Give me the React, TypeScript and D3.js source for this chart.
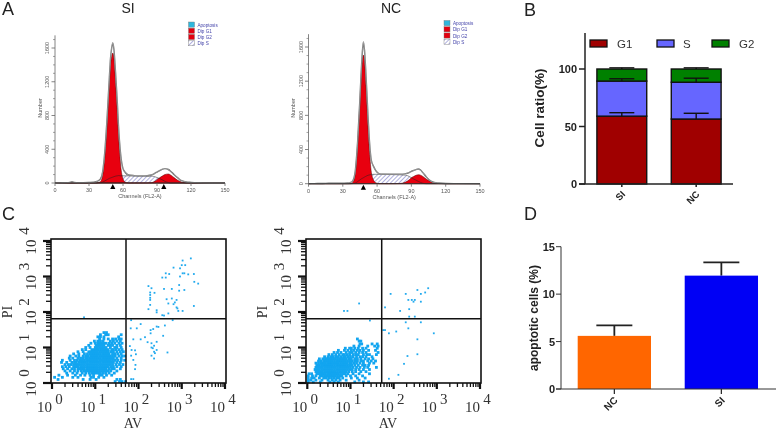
import React from "react";
import * as d3 from "d3";

// ---------- Panel A: cell-cycle histograms ----------
const siChannels = [0,5,10,13,15,17,20,25,30,34,37,40,42,44,46,48,49,50,51,52,53,54,55,56,58,60,62,65,70,75,80,85,88,90,92,95,97,100,102,105,108,110,113,116,120,125,130,140,150];
const siTotal =    [0,2,4,8,14,8,4,5,7,10,18,45,130,380,780,1260,1480,1600,1660,1580,1400,1180,950,680,330,170,125,95,88,85,85,95,115,130,145,165,170,160,140,100,65,40,22,12,8,4,2,0,0];
const siG1 =       [0,0,0,0,0,0,0,0,0,0,2,15,90,320,720,1190,1400,1500,1540,1480,1300,1080,840,580,200,50,10,0,0,0,0,0,0,0,0,0,0,0,0,0,0,0,0,0,0,0,0,0,0];
const siS =        [0,0,0,0,0,0,0,0,0,0,0,3,10,25,40,55,60,65,70,75,80,83,85,88,85,85,85,85,83,82,82,82,75,65,55,35,20,5,0,0,0,0,0,0,0,0,0,0,0];
const siG2 =       [0,0,0,0,0,0,0,0,0,0,0,0,0,0,0,0,0,0,0,0,0,0,0,0,0,0,0,0,0,0,0,3,20,40,60,85,100,107,95,65,35,20,6,1,0,0,0,0,0];
const ncChannels = [0,5,10,15,20,25,30,34,37,39,41,43,45,46,47,48,49,50,51,52,53,54,55,57,59,62,65,70,75,80,85,88,90,92,94,96,98,100,103,107,110,114,120,130,150];
const ncTotal =    [0,1,2,4,5,6,7,8,15,40,160,500,1000,1280,1520,1660,1560,1340,1080,800,560,380,270,200,150,115,110,110,112,112,118,130,145,155,165,172,160,130,80,30,15,8,3,1,0];
const ncG1 =       [0,0,0,0,0,0,0,0,2,20,130,470,960,1240,1440,1505,1440,1220,960,680,440,260,130,40,10,0,0,0,0,0,0,0,0,0,0,0,0,0,0,0,0,0,0,0,0,0];
const ncS =        [0,0,0,0,0,0,0,0,0,2,8,25,45,55,62,70,78,85,92,98,102,105,108,110,110,110,110,108,106,104,100,85,70,55,42,28,15,5,0,0,0,0,0,0,0];
const ncG2 =       [0,0,0,0,0,0,0,0,0,0,0,0,0,0,0,0,0,0,0,0,0,0,0,0,0,0,0,0,0,2,20,45,70,85,98,105,100,85,55,22,9,2,0,0,0];
const histXTicks = [0, 30, 60, 90, 120, 150];
const histYTicks = [0, 400, 800, 1200, 1600];
const histYMinor = [100,200,300,500,600,700,900,1000,1100,1300,1400,1500,1700];
const legendLabels = ["Apoptosis", "Dip G1", "Dip G2", "Dip S"];

// ---------- Panel B ----------
const stackGroups = ["SI", "NC"];
const g1Values = [59, 56.5];
const sValues = [30.5, 32];
const g2Values = [10.5, 11.5];
const g1ErrTop = [62, 61.5];
const sErrTop = [91.5, 92];
const g2ErrTop = [101, 101];
const stackTicks = [0, 50, 100];

// ---------- Panel D ----------
const apoGroups = ["NC", "SI"];
const apoValues = [5.6, 11.95];
const apoErrTop = [6.7, 13.35];
const apoTicks = [0, 5, 10, 15];

// ---------- Panel C: scatter, log10 decades, rows are [PI, AV values] ----------
type Row = [number, number[]];
const siCluster: Row[] = [
  [1.42,[1.2,1.26]],
  [1.36,[1.12,1.24,1.3,1.6]],
  [1.3,[1.06,1.12,1.2,1.54]],
  [1.24,[1.1,1.2,1.3,1.4,1.47,1.55,1.6]],
  [1.18,[.98,1.06,1.12,1.18,1.35,1.42,1.5,1.58]],
  [1.12,[.9,1,1.06,1.1,1.15,1.2,1.25,1.32,1.38,1.45,1.55,1.62]],
  [1.06,[.85,1.02,1.06,1.1,1.15,1.2,1.3,1.35,1.4,1.5,1.58]],
  [1,[.78,.88,1,1.05,1.1,1.15,1.2,1.25,1.35,1.45,1.5,1.6]],
  [.94,[.7,.78,.92,.98,1.02,1.06,1.12,1.16,1.2,1.25,1.3,1.38,1.42,1.48,1.55,1.62]],
  [.88,[.6,.72,.85,.9,.95,1,1.05,1.1,1.15,1.2,1.25,1.3,1.36,1.42,1.5,1.58,1.65]],
  [.82,[.5,.62,.75,.82,.88,.92,.97,1.02,1.07,1.12,1.17,1.22,1.27,1.32,1.4,1.45,1.52,1.6]],
  [.76,[.42,.55,.62,.72,.78,.84,.9,.95,1,1.05,1.1,1.15,1.2,1.25,1.3,1.35,1.4,1.46,1.55,1.62,1.68]],
  [.7,[.4,.48,.6,.66,.72,.78,.82,.87,.92,.97,1.02,1.07,1.12,1.17,1.22,1.27,1.32,1.37,1.42,1.5,1.6]],
  [.64,[.24,.42,.52,.58,.64,.7,.75,.8,.85,.9,.95,1,1.05,1.1,1.15,1.2,1.25,1.3,1.35,1.4,1.46,1.52,1.6,1.68]],
  [.58,[.22,.34,.46,.52,.56,.62,.68,.72,.77,.82,.87,.92,.97,1.02,1.07,1.12,1.17,1.22,1.27,1.32,1.37,1.42,1.5,1.58]],
  [.52,[.3,.38,.44,.5,.56,.6,.65,.7,.75,.8,.85,.9,.95,1,1.05,1.1,1.15,1.2,1.25,1.3,1.35,1.4,1.48,1.56,1.64]],
  [.46,[.24,.32,.4,.5,.55,.6,.66,.7,.75,.8,.85,.9,.95,1,1.05,1.1,1.15,1.2,1.25,1.3,1.36,1.42,1.5,1.6]],
  [.4,[.26,.36,.46,.52,.6,.65,.7,.74,.8,.85,.9,.95,1,1.05,1.1,1.15,1.2,1.25,1.32,1.38,1.44,1.58]],
  [.34,[.3,.42,.52,.6,.68,.74,.78,.82,.86,.9,.95,1,1.05,1.1,1.15,1.2,1.25,1.3,1.36,1.5]],
  [.28,[.34,.48,.58,.7,.78,.86,.92,.97,1.02,1.07,1.12,1.18,1.24,1.32,1.44]],
  [.22,[.16,.36,.54,.66,.76,.88,.96,1.1,1.16,1.26,1.38]],
  [.16,[.06,.24,.48,.6,.9,.96,1.08,1.2]],
  [.1,[.14,.72,.88,1.02,1.5,1.58]],
  [.04,[1.46,1.56,1.62,1.7]],
];
const siRightX = [3.21,3.02,3,3.08,2.81,2.96,2.63,2.71,2.55,2.63,3.02,2.96,3.06,3.15,3.28,3.29,3.38,2.94,2.23,2.3,2.37,2.27,2.27,2.27,2.27,2.59,2.77,2.94,3.06,2.65,2.77,2.84,2.88,2.69,2.81,2.27,2.23,2.42,2.42,2.9,2.92,3.02,3.28,2.69,2.55,2.59,2.88,0.74,
  1.83,2.05,1.82,1.96,2.42,2.34,2.28,2.46,2.61,2.79,2.57,2.28,2.15,2.05,1.88,2.42,2.21,2.3,2.36,2.3,2.42,2.36,2.33,2.67,2.38,2.3,2.36,1.8,1.84,1.92,1.94,1.83,1.88,1.93,1.92,1.83,1.88];
const siRightY = [3.51,3.45,3.32,3.32,3.25,3.23,3.09,3.07,2.97,2.97,3.09,3,3.09,3.06,3.07,2.85,2.8,2.76,2.73,2.67,2.54,2.55,2.48,2.4,2.34,2.65,2.65,2.6,2.62,2.36,2.38,2.27,2.34,2.24,2.22,2.2,2.08,2.05,1.99,2.1,2.03,2.03,2.17,1.96,1.91,1.9,2.13,1.85,
  1.77,1.66,1.54,1.54,1.59,1.52,1.49,1.58,1.62,1.77,1.33,1.4,1.29,1.23,1.23,1.16,1.15,1.12,1.05,1,.93,.88,.98,.86,.84,.77,.69,1.04,.93,.92,.81,.77,.65,.51,.39,.11,.11];

const ncCluster: Row[] = [
  [1.24,[1.16]],
  [1.18,[1.2,1.24]],
  [1.1,[1.22,1.26,1.5,1.62]],
  [1.04,[1.08,1.2,1.4,1.56,1.64]],
  [.98,[.88,.98,1.02,1.1,1.18,1.28,1.36,1.62]],
  [.92,[.72,.86,.94,1.02,1.08,1.16,1.22,1.3,1.42,1.58]],
  [.86,[.62,.7,.78,.9,.98,1.04,1.12,1.2,1.28,1.36,1.64]],
  [.8,[.5,.58,.66,.74,.82,.86,.92,.98,1.06,1.12,1.18,1.3,1.38,1.44,1.6]],
  [.74,[.4,.48,.54,.6,.66,.72,.78,.84,.88,.94,1,1.06,1.14,1.22,1.28,1.36,1.5]],
  [.68,[.28,.36,.42,.46,.5,.55,.6,.65,.7,.75,.8,.85,.9,.96,1.02,1.1,1.16,1.24,1.34,1.42,1.52]],
  [.62,[.26,.32,.38,.43,.48,.53,.58,.63,.68,.73,.78,.83,.88,.93,.98,1.04,1.1,1.16,1.24,1.3,1.4,1.48,1.58]],
  [.56,[.2,.26,.32,.37,.42,.47,.52,.57,.62,.67,.72,.77,.82,.87,.92,.98,1.02,1.08,1.14,1.22,1.3,1.44,1.54]],
  [.5,[.22,.28,.33,.38,.43,.48,.53,.58,.63,.68,.73,.78,.83,.88,.93,.98,1.03,1.1,1.18,1.28,1.34,1.42]],
  [.44,[.2,.25,.3,.35,.4,.45,.5,.55,.6,.65,.7,.75,.8,.85,.9,.95,1,1.06,1.14,1.22,1.32,1.4,1.6]],
  [.38,[.18,.23,.28,.33,.38,.43,.48,.53,.58,.63,.68,.73,.78,.83,.88,.93,.98,1.04,1.12,1.2,1.3,1.44]],
  [.32,[.2,.25,.3,.35,.4,.45,.5,.55,.6,.65,.7,.75,.8,.85,.9,.96,1.04,1.12,1.24,1.36]],
  [.26,[.04,.1,.22,.27,.32,.37,.42,.47,.52,.57,.62,.67,.72,.77,.82,.88,.94,1.06,1.2,1.44]],
  [.2,[.02,.12,.2,.3,.35,.4,.45,.5,.55,.6,.65,.7,.75,.8,.9,1,1.12,1.28]],
  [.14,[.02,.1,.16,.28,.38,.44,.5,.56,.62,.68,.74,.82,1.02,1.16,1.34]],
  [.08,[.02,.08,.2,.34,.48,.58,.66,.76,.9,1.2]],
  [.03,[.02,.14,.3,.52,.62,.72,1.1,1.3,1.42]],
];
const ncRightX = [2.8,2.73,2.55,2.63,1.93,2.28,2.34,2.42,2.46,2.49,2.63,1.8,2.36,2.15,2.36,2.49,2.28,2.63,2.34,1.76,1.8,1.89,2.06,2.93,2.55,2.55,2.32,2.24,2.11,1.89,1.2,.85,.93,1.45];
const ncRightY = [2.67,2.55,2.62,2.51,2.51,2.51,2.34,2.34,2.29,2.34,2.29,2.13,2.08,2.03,1.87,1.87,1.71,1.71,1.54,1.49,1.49,1.4,1.45,1.4,1.23,.81,.76,.54,.23,.12,2.24,2.03,2.03,1.76];

const decadeTicks = [0, 1, 2, 3, 4];

const sans = "'Liberation Sans', Arial, sans-serif";
const serif = "'Liberation Serif', serif";

function Histogram({ title, titleX, x0, x1, base, y1600, channels, total, g1, s, g2, marks, legendX, legendY, id }: any) {
  const x = d3.scaleLinear().domain([0, 150]).range([x0, x1]);
  const y = d3.scaleLinear().domain([0, 1600]).range([base, y1600]);
  const area = (vals: number[]) =>
    d3.area<number>().x((_, i) => x(channels[i])).y0(y(0)).y1((d) => y(d)).curve(d3.curveMonotoneX)(vals) as string;
  const lineGen = d3.line<number>().x((_, i) => x(channels[i])).y((d) => y(d)).curve(d3.curveMonotoneX);
  const line = lineGen(total) as string;
  const axisCol = "#666";
  const swatches = ["#2FB7DD", "#E3000F", "#E3000F", `url(#${id})`];
  return (
    <g>
      <defs>
        <pattern id={id} patternUnits="userSpaceOnUse" width={3} height={3} patternTransform="rotate(45)">
          <rect width={3} height={3} fill="#fff" />
          <line x1={0} y1={0} x2={0} y2={3} stroke="#6F6FC4" strokeWidth={1.1} />
        </pattern>
      </defs>
      <text x={titleX} y={13} textAnchor="middle" fontFamily={sans} fontSize={14} fill="#222">{title}</text>
      <path d={area(s)} fill={`url(#${id})`} />
      <path d={area(g1)} fill="#E8000F" stroke="#500" strokeWidth={0.5} />
      <path d={area(g2)} fill="#E8000F" stroke="#500" strokeWidth={0.5} />
      <path d={lineGen(s) as string} fill="none" stroke="#222" strokeWidth={0.5} />
      <path d={line} fill="none" stroke="#666" strokeWidth={1.4} />
      <path d={line} fill="none" stroke="#eee" strokeWidth={0.35} />
      <line x1={x0} x2={x0} y1={y(1750)} y2={base} stroke={axisCol} strokeWidth={0.8} />
      <line x1={x0} x2={x1} y1={base} y2={base} stroke="#333" strokeWidth={0.9} />
      {histYTicks.map((t) => (
        <g key={t}>
          <line x1={x0 - 3.5} x2={x0} y1={y(t)} y2={y(t)} stroke={axisCol} strokeWidth={0.8} />
          <text transform={`translate(${x0 - 6},${y(t)}) rotate(-90)`} textAnchor="middle" fontFamily={sans} fontSize={5.5} fill="#555">{t}</text>
        </g>
      ))}
      {histYMinor.map((t) => <line key={t} x1={x0 - 2} x2={x0} y1={y(t)} y2={y(t)} stroke={axisCol} strokeWidth={0.6} />)}
      {histXTicks.map((t) => (
        <g key={t}>
          <line x1={x(t)} x2={x(t)} y1={base} y2={base + 3} stroke={axisCol} strokeWidth={0.8} />
          <text x={x(t)} y={base + 9} textAnchor="middle" fontFamily={sans} fontSize={5.5} fill="#555">{t}</text>
        </g>
      ))}
      {marks.map((m: number) => (
        <path key={m} d={`M${x(m)},${base + 1}L${x(m) + 2.6},${base + 6}L${x(m) - 2.6},${base + 6}Z`} fill="#000" />
      ))}
      <text x={(x0 + x1) / 2} y={base + 15} textAnchor="middle" fontFamily={sans} fontSize={5.5} fill="#555">Channels (FL2-A)</text>
      <text transform={`translate(${x0 - 13.5},${108}) rotate(-90)`} textAnchor="middle" fontFamily={sans} fontSize={5.5} fill="#555">Number</text>
      {legendLabels.map((l, i) => (
        <g key={l}>
          <rect x={legendX} y={legendY + i * 6.2} width={6} height={5.2} fill={swatches[i]} stroke="#777" strokeWidth={0.4} />
          <text x={legendX + 9} y={legendY + i * 6.2 + 4.6} fontFamily={sans} fontSize={4.6} fill="#4444AA">{l}</text>
        </g>
      ))}
    </g>
  );
}

function Flow({ dx, cluster, rightX, rightY, left, right, crossX }: any) {
  const x = d3.scaleLog().domain([1, 1e4]).range([left, right]);
  const y = d3.scaleLog().domain([1, 1e4]).range([383, 241]);
  const clusterDots: [number, number][] = [];
  (cluster as Row[]).forEach(([py, xs]) => xs.forEach((a) => clusterDots.push([a, py])));
  const major = decadeTicks.map((d) => 10 ** d);
  const all = x.ticks();
  const col = "#333";
  return (
    <g>
      {clusterDots.map(([a, b], i) => (
        <rect key={i} x={x(10 ** a) - 1.4} y={y(10 ** b) - 1.4} width={2.8} height={2.8} fill="#12A5F0" />
      ))}
      {(rightX as number[]).map((a, i) => (
        <rect key={i} x={x(10 ** a) - 0.9} y={y(10 ** rightY[i]) - 0.9} width={1.8} height={1.8} fill="#22AAEE" />
      ))}
      <rect x={dx + 51} y={239} width={175} height={144} fill="none" stroke="#111" strokeWidth={1.6} />
      <line x1={crossX} x2={crossX} y1={239} y2={383} stroke="#111" strokeWidth={1.5} />
      <line x1={dx + 51} x2={dx + 226} y1={318.7} y2={318.7} stroke="#111" strokeWidth={1.5} />
      {all.map((t) => {
        const isMajor = major.includes(t);
        return (
          <g key={t}>
            <line x1={x(t)} x2={x(t)} y1={383} y2={isMajor ? 389 : 387} stroke="#111" strokeWidth={isMajor ? 2.2 : 1.3} />
            <line x1={dx + 51} x2={isMajor ? dx + 43 : dx + 46} y1={y(t)} y2={y(t)} stroke="#111" strokeWidth={isMajor ? 2.2 : 1.3} />
          </g>
        );
      })}
      {decadeTicks.map((d) => (
        <g key={d} fontFamily={serif} fontSize={15} fill={col}>
          <text x={x(10 ** d) - 7.5} y={412} textAnchor="middle">10</text>
          <text x={x(10 ** d) + 7} y={404} textAnchor="middle">{d}</text>
          <text transform={`translate(${dx + 36},${y(10 ** d) + 6}) rotate(-90)`} textAnchor="middle">10</text>
          <text transform={`translate(${dx + 29},${y(10 ** d) - 10}) rotate(-90)`} textAnchor="middle">{d}</text>
        </g>
      ))}
      <text x={dx + 133} y={428} textAnchor="middle" fontFamily={serif} fontSize={14} fill={col}>AV</text>
      <text transform={`translate(${dx + 12},${312}) rotate(-90)`} textAnchor="middle" fontFamily={serif} fontSize={14} fill={col}>PI</text>
    </g>
  );
}

function StackedBars() {
  const x = d3.scaleBand().domain(stackGroups).range([585, 733]).paddingInner(0.33).paddingOuter(0.16);
  const y = d3.scaleLinear().domain([0, 100]).range([184, 69]);
  const series = [
    { vals: g1Values, base: [0, 0], fill: "#A00000", err: g1ErrTop },
    { vals: sValues, base: g1Values, fill: "#6666FF", err: sErrTop },
    { vals: g2Values, base: g1Values.map((v, i) => v + sValues[i]), fill: "#008000", err: g2ErrTop },
  ];
  const legend = [
    { l: "G1", sx: 590, tx: 617, fill: "#A00000" },
    { l: "S", sx: 657, tx: 683, fill: "#6666FF" },
    { l: "G2", sx: 712, tx: 739, fill: "#008000" },
  ];
  return (
    <g>
      {series.map((s) =>
        stackGroups.map((g, i) => {
          const top = s.base[i] + s.vals[i];
          return <rect key={g + s.fill} x={x(g)} y={y(top)} width={x.bandwidth()} height={y(s.base[i]) - y(top)} fill={s.fill} stroke="#111" strokeWidth={1.4} />;
        })
      )}
      {series.map((s) =>
        stackGroups.map((g, i) => {
          const top = s.base[i] + s.vals[i];
          const cx = (x(g) as number) + x.bandwidth() / 2;
          return (
            <g key={g + s.fill}>
              <line x1={cx} x2={cx} y1={y(top)} y2={y(s.err[i])} stroke="#111" strokeWidth={1.4} />
              <line x1={cx - 12.5} x2={cx + 12.5} y1={y(s.err[i])} y2={y(s.err[i])} stroke="#111" strokeWidth={1.4} />
            </g>
          );
        })
      )}
      <line x1={585} x2={585} y1={33} y2={184} stroke="#222" strokeWidth={1.5} />
      <line x1={579} x2={733} y1={184} y2={184} stroke="#222" strokeWidth={1.5} />
      {stackTicks.map((t) => (
        <g key={t}>
          <line x1={579} x2={585} y1={y(t)} y2={y(t)} stroke="#222" strokeWidth={1.5} />
          <text x={577} y={y(t) + 4} textAnchor="end" fontFamily={sans} fontWeight="bold" fontSize={11} fill="#222">{t}</text>
        </g>
      ))}
      {stackGroups.map((g) => {
        const cx = (x(g) as number) + x.bandwidth() / 2;
        return (
          <g key={g}>
            <line x1={cx} x2={cx} y1={184} y2={187} stroke="#222" strokeWidth={1.5} />
            <text transform={`translate(${cx + 4},${195}) rotate(-45)`} textAnchor="end" fontFamily={sans} fontWeight="bold" fontSize={9.5} fill="#222">{g}</text>
          </g>
        );
      })}
      <text transform="translate(544,108) rotate(-90)" textAnchor="middle" fontFamily={sans} fontWeight="bold" fontSize={13.5} fill="#222">Cell ratio(%)</text>
      {legend.map((d) => (
        <g key={d.l}>
          <rect x={d.sx} y={40} width={17} height={7} fill={d.fill} stroke="#111" strokeWidth={1.3} />
          <text x={d.tx} y={48} fontFamily={sans} fontSize={11.5} fill="#333">{d.l}</text>
        </g>
      ))}
    </g>
  );
}

function ApoBars() {
  const x = d3.scaleBand().domain(apoGroups).range([561, 774.7]).paddingInner(0.315).paddingOuter(0.156);
  const y = d3.scaleLinear().domain([0, 15]).range([389, 246.7]);
  const fills = ["#FF6600", "#0000F5"];
  return (
    <g>
      {apoGroups.map((g, i) => {
        const cx = (x(g) as number) + x.bandwidth() / 2;
        return (
          <g key={g}>
            <line x1={cx} x2={cx} y1={y(apoValues[i])} y2={y(apoErrTop[i])} stroke="#222" strokeWidth={1.8} />
            <line x1={cx - 18} x2={cx + 18} y1={y(apoErrTop[i])} y2={y(apoErrTop[i])} stroke="#222" strokeWidth={1.8} />
            <rect x={x(g)} y={y(apoValues[i])} width={x.bandwidth()} height={389 - y(apoValues[i])} fill={fills[i]} />
            <line x1={cx} x2={cx} y1={389} y2={394} stroke="#222" strokeWidth={1.2} />
            <text transform={`translate(${cx + 4},${401}) rotate(-45)`} textAnchor="end" fontFamily={sans} fontWeight="bold" fontSize={10} fill="#222">{g}</text>
          </g>
        );
      })}
      <line x1={561} x2={561} y1={246.7} y2={389} stroke="#333" strokeWidth={1} />
      <line x1={556} x2={776} y1={389} y2={389} stroke="#333" strokeWidth={1} />
      {apoTicks.map((t) => (
        <g key={t}>
          <line x1={556} x2={561} y1={y(t)} y2={y(t)} stroke="#333" strokeWidth={1} />
          <text x={555} y={y(t) + 4} textAnchor="end" fontFamily={sans} fontWeight="bold" fontSize={11} fill="#222">{t}</text>
        </g>
      ))}
      <text transform="translate(538,318) rotate(-90)" textAnchor="middle" fontFamily={sans} fontWeight="bold" fontSize={12} fill="#222">apoptotic cells (%)</text>
    </g>
  );
}

export default function App() {
  return (
    <svg width={778} height={431} style={{ position: "absolute", left: 0, top: 0, background: "#fff", filter: "blur(0.3px)" }}>
      <g fontFamily={sans} fontSize={18} fill="#222">
        <text x={2} y={15}>A</text>
        <text x={524} y={16}>B</text>
        <text x={2} y={220}>C</text>
        <text x={524} y={220}>D</text>
      </g>
      <Histogram id="hatchSI" title="SI" titleX={128} x0={55} x1={225} base={183} y1600={48} channels={siChannels} total={siTotal} g1={siG1} s={siS} g2={siG2} marks={[51, 96]} legendX={188.5} legendY={22} />
      <Histogram id="hatchNC" title="NC" titleX={391} x0={308.5} x1={480} base={183.7} y1600={47} channels={ncChannels} total={ncTotal} g1={ncG1} s={ncS} g2={ncG2} marks={[48]} legendX={444} legendY={20.5} />
      <StackedBars />
      <Flow dx={0} cluster={siCluster} rightX={siRightX} rightY={siRightY} left={52} right={225} crossX={126} />
      <Flow dx={255} cluster={ncCluster} rightX={ncRightX} rightY={ncRightY} left={307.3} right={480} crossX={381.7} />
      <ApoBars />
    </svg>
  );
}
